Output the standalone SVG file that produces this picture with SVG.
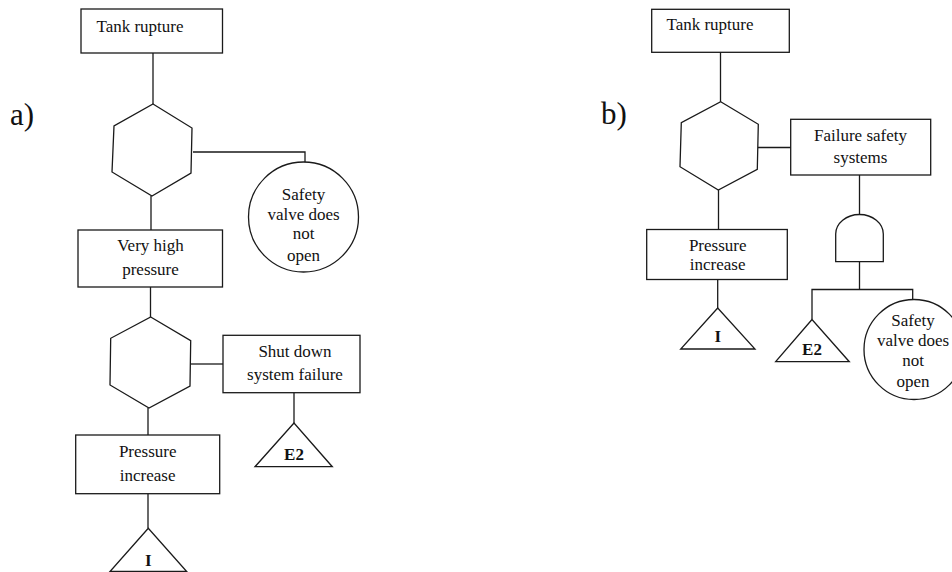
<svg xmlns="http://www.w3.org/2000/svg" width="952" height="572" viewBox="0 0 952 572">
  <style>
    .shape { fill: #fff; stroke: #1a1a1a; stroke-width: 1.3; }
    .wire { fill: none; stroke: #1a1a1a; stroke-width: 1.3; }
    text { font-family: 'Liberation Serif', 'DejaVu Serif', 'Times New Roman', Times, serif; fill: #111; }
    .txt { font-size: 17px; text-anchor: middle; }
    .bold { font-weight: bold; }
    .label { font-size: 31px; }
  </style>
  <rect width="952" height="572" fill="#fff"/>

  <!-- panel labels -->
  <text class="label" x="10" y="125" font-family="Liberation Serif, serif">a)</text>
  <text class="label" x="601" y="124" font-family="Liberation Serif, serif">b)</text>

  <!-- connectors -->
  <g id="connectors">
    <!-- tree a -->
    <path class="wire" d="M153,53 V104"/>
    <path class="wire" d="M193,152 H305 V162"/>
    <path class="wire" d="M151,196 V230"/>
    <path class="wire" d="M150.5,287 V317"/>
    <path class="wire" d="M191,364 H223"/>
    <path class="wire" d="M294,393 V423"/>
    <path class="wire" d="M148,408 V435"/>
    <path class="wire" d="M148,494 V528"/>
    <!-- tree b -->
    <path class="wire" d="M720.5,52 V102"/>
    <path class="wire" d="M758,147.5 H791"/>
    <path class="wire" d="M718.5,190 V229.5"/>
    <path class="wire" d="M717.7,279.5 V308"/>
    <path class="wire" d="M859.5,175 V214.5"/>
    <path class="wire" d="M859.5,262 V289.5"/>
    <path class="wire" d="M812,319.5 V289.5 H912.7 V299.5"/>
  </g>

  <!-- tree a nodes -->
  <g id="a-tank-rupture" font-family="Liberation Serif, serif">
    <rect class="shape" x="81" y="9" width="141.5" height="44"/>
    <text class="txt" x="140" y="32">Tank rupture</text>
  </g>
  <g id="a-inhibit-1">
    <polygon class="shape" points="153,104 192,128 191,173 152,196 112,172 114,126"/>
  </g>
  <g id="a-safety-valve">
    <circle class="shape" cx="303.5" cy="217" r="55"/>
    <text class="txt" x="303.5" y="200">Safety</text>
    <text class="txt" x="303.5" y="220">valve does</text>
    <text class="txt" x="303.5" y="239">not</text>
    <text class="txt" x="303.5" y="261">open</text>
  </g>
  <g id="a-very-high-pressure">
    <rect class="shape" x="78" y="230" width="144.5" height="57"/>
    <text class="txt" x="150.5" y="251">Very high</text>
    <text class="txt" x="150.5" y="275">pressure</text>
  </g>
  <g id="a-inhibit-2">
    <polygon class="shape" points="150.7,317 190.7,340.7 190,386 149,408 110,385 110.7,338.3"/>
  </g>
  <g id="a-shutdown-failure">
    <rect class="shape" x="223" y="335.3" width="137" height="57.4"/>
    <text class="txt" x="295" y="357">Shut down</text>
    <text class="txt" x="295" y="380">system failure</text>
  </g>
  <g id="a-e2">
    <polygon class="shape" points="294,423 255,466.7 332.3,466.7"/>
    <text class="txt bold" x="294" y="460">E2</text>
  </g>
  <g id="a-pressure-increase">
    <rect class="shape" x="75.7" y="435" width="144" height="58.7"/>
    <text class="txt" x="147.7" y="457">Pressure</text>
    <text class="txt" x="147.7" y="481">increase</text>
  </g>
  <g id="a-i">
    <polygon class="shape" points="148.3,528.3 110,571.5 186.7,571.5"/>
    <text class="txt bold" x="148.3" y="566">I</text>
  </g>

  <!-- tree b nodes -->
  <g id="b-tank-rupture">
    <rect class="shape" x="651.7" y="9.3" width="137.6" height="43"/>
    <text class="txt" x="710" y="30">Tank rupture</text>
  </g>
  <g id="b-inhibit">
    <polygon class="shape" points="720.7,101.7 758.3,124.3 757.3,169.3 718.3,190 680,166.7 681.3,122.7"/>
  </g>
  <g id="b-failure-safety">
    <rect class="shape" x="790.7" y="119.3" width="140" height="55.7"/>
    <text class="txt" x="860.5" y="141">Failure safety</text>
    <text class="txt" x="860.5" y="163">systems</text>
  </g>
  <g id="b-and-gate">
    <path class="shape" d="M835.7,261.7 V234 A23.8,19.5 0 0 1 883.3,234 V261.7 Z"/>
  </g>
  <g id="b-pressure-increase">
    <rect class="shape" x="646.7" y="229.5" width="140.6" height="50"/>
    <text class="txt" x="717.7" y="251">Pressure</text>
    <text class="txt" x="717.7" y="270">increase</text>
  </g>
  <g id="b-i">
    <polygon class="shape" points="717.7,308 680.7,349 755,349"/>
    <text class="txt bold" x="717.7" y="342">I</text>
  </g>
  <g id="b-e2">
    <polygon class="shape" points="812,319.5 775.7,361.7 849.3,361.7"/>
    <text class="txt bold" x="812" y="355">E2</text>
  </g>
  <g id="b-safety-valve">
    <circle class="shape" cx="914" cy="349.5" r="50"/>
    <text class="txt" x="913" y="326">Safety</text>
    <text class="txt" x="913" y="346">valve does</text>
    <text class="txt" x="913" y="366">not</text>
    <text class="txt" x="913" y="387">open</text>
  </g>
</svg>
